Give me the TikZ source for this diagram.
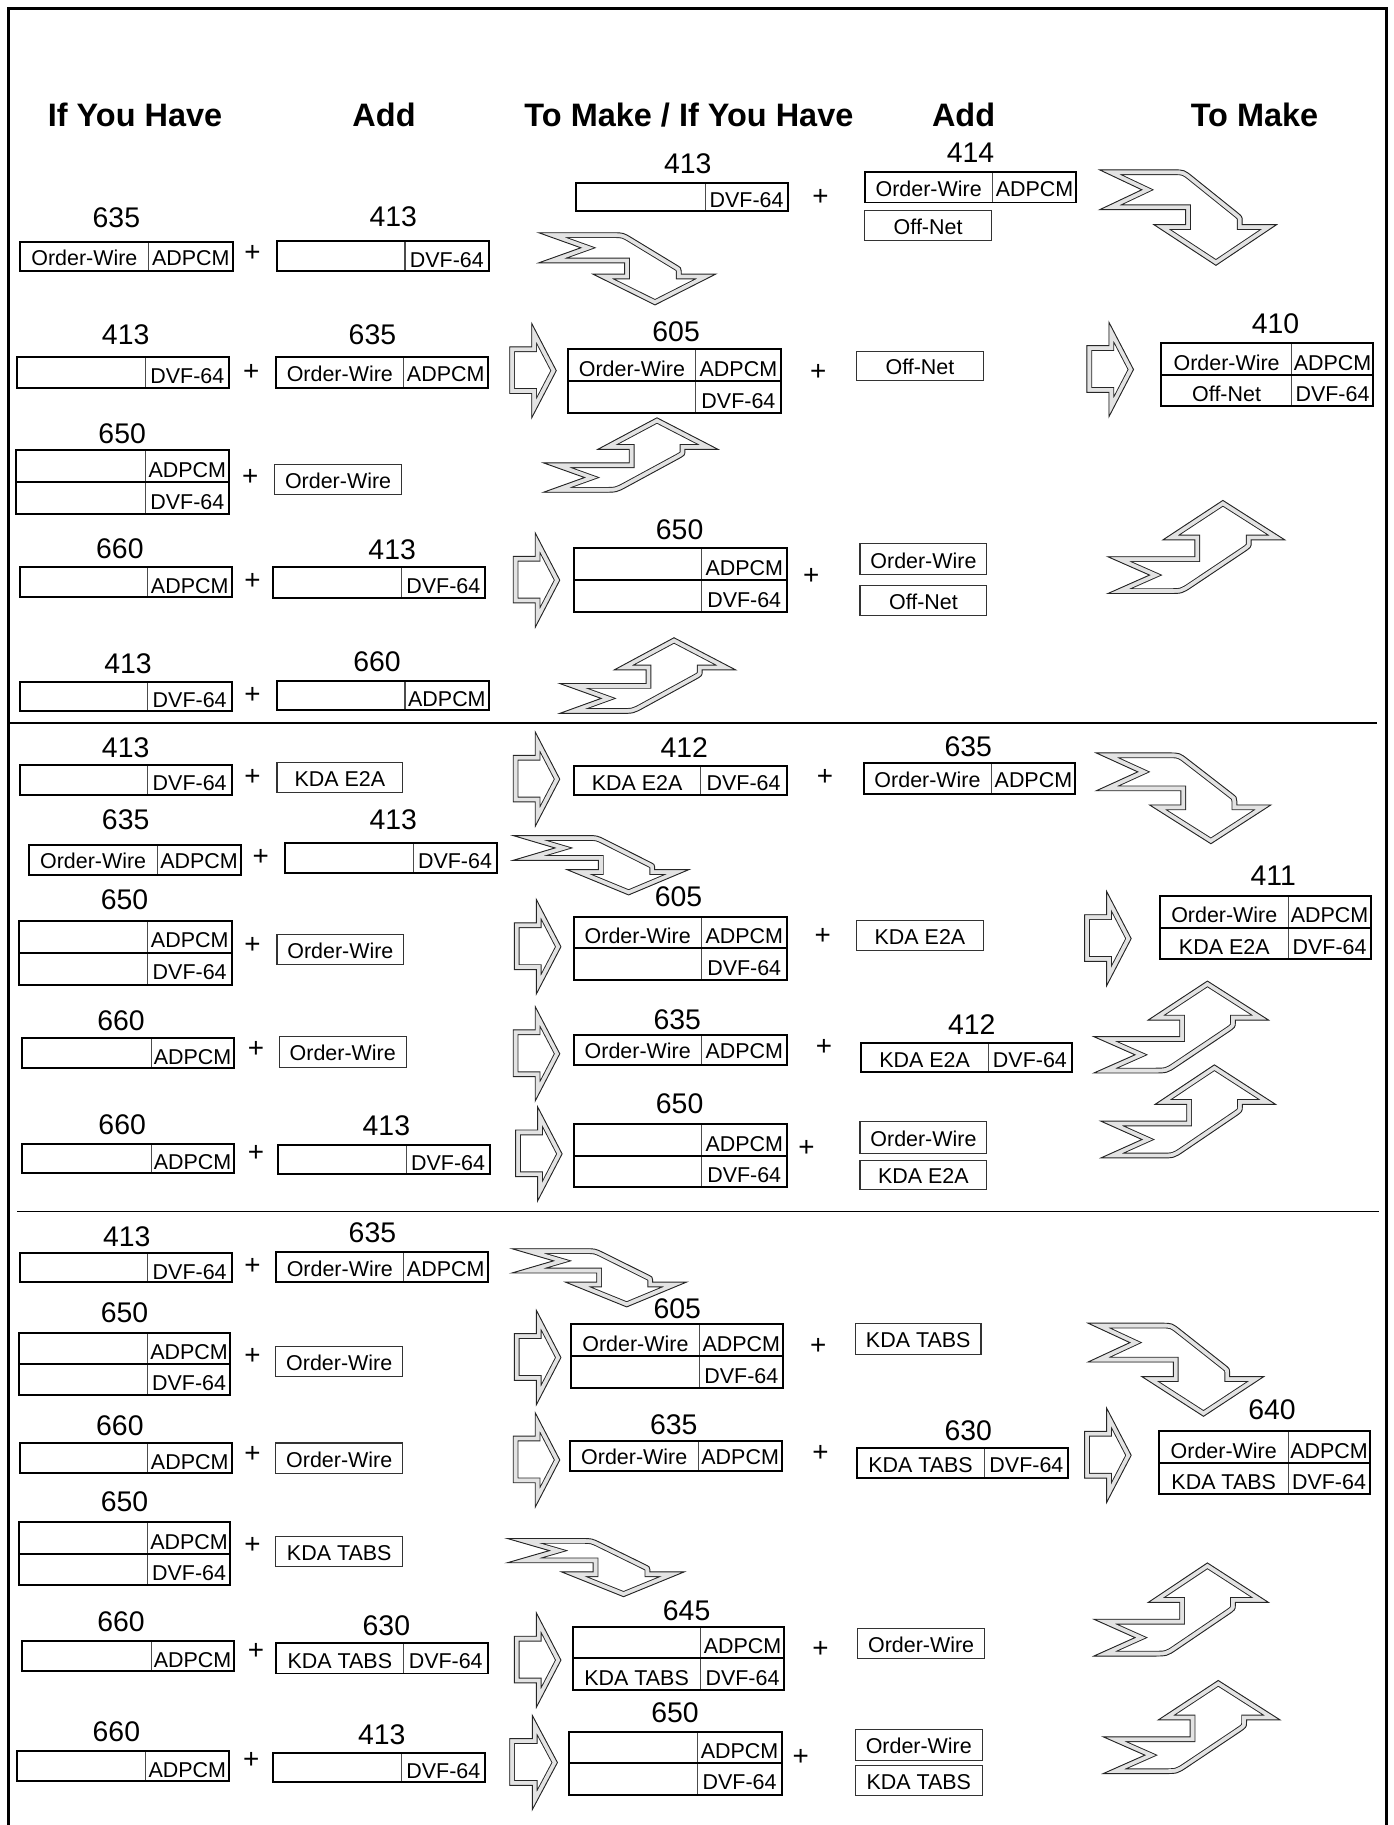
\documentclass[tikz,border=0pt]{standalone}
\usepackage{fontspec}
\setmainfont{Liberation Sans}
\tikzset{
 outl/.style={draw=black, line width=1.7bp},
 divl/.style={draw=black!70, line width=0.9bp},
 thinbox/.style={draw=black!80, line width=1bp},
 cell/.style={inner sep=0pt, text height=13.2bp, text depth=0pt, font=\fontsize{18.5}{20}\selectfont},
 num/.style={inner sep=0pt, text height=17.5bp, text depth=0pt, font=\fontsize{24.5}{26}\selectfont},
 hdr/.style={inner sep=0pt, text height=20bp, text depth=0pt, font=\bfseries\fontsize{28}{30}\selectfont},
 plus/.style={inner sep=0pt, font=\fontsize{24}{25}\selectfont},
 bandout/.style={draw=black!85, line width=9bp, line join=miter},
 bandin/.style={draw=black!11, line width=7.4bp, line join=miter},
 bandedge/.style={draw=black!85, line width=0.8bp, line join=miter},
 sep/.style={draw=black, line width=1.5bp},
}
\newcommand{\BxTwo}[8]{%
 \draw[divl] (#5,#2) -- (#5,#4);
 \draw[outl] (#1,#2) rectangle (#3,#4);
 \node[cell] at ({(#1+#5)/2},{(#2+#4)/2+#8}) {#6};
 \node[cell] at ({(#5+#3)/2},{(#2+#4)/2+#8}) {#7};}
\newcommand{\BxFour}[9]{%
 \draw[divl] (#5,#2) -- (#5,#4);
 \draw[outl] (#1,{(#2+#4)/2}) -- (#3,{(#2+#4)/2});
 \draw[outl] (#1,#2) rectangle (#3,#4);
 \node[cell] at ({(#1+#5)/2},{(3*#2+#4)/4+3}) {#6};
 \node[cell] at ({(#5+#3)/2},{(3*#2+#4)/4+3}) {#7};
 \node[cell] at ({(#1+#5)/2},{(#2+3*#4)/4+3}) {#8};
 \node[cell] at ({(#5+#3)/2},{(#2+3*#4)/4+3}) {#9};}
\newcommand{\BxOne}[5]{%
 \draw[thinbox] (#1,#2) rectangle (#3,#4);
 \node[cell] at ({(#1+#3)/2},{(#2+#4)/2+1}) {#5};}
\newcommand{\Band}[5]{%
 \begin{scope}[shift={(#1,#2)}, xscale=#3, yscale=#4]
  \begin{scope}
   \clip #5;
   \draw[bandout] #5;
   \draw[bandin] #5;
  \end{scope}
  \draw[bandedge] #5;
 \end{scope}}
\newcommand{\ArS}[4]{\Band{#1}{#2}{#3}{#4}{(0,0.247) -- (0.473,0.247) -- (0.473,0) -- (1,0.5) -- (0.473,1) -- (0.473,0.742) -- (0,0.742) -- cycle}}
\newcommand{\ArD}[4]{\Band{#1}{#2}{#3}{#4}{(0,0) -- (0.42,0) .. controls (0.478,0) .. (0.53,0.078) -- (0.769,0.434) .. controls (0.805,0.4875) .. (0.805,0.53) -- (0.805,0.573) -- (1,0.573) -- (0.6567,1) -- (0.3056,0.573) -- (0.485,0.573) -- (0.485,0.4167) -- (0,0.4167) -- (0.2377,0.2083) -- cycle}}
\newcommand{\ArU}[4]{\Band{#1}{#2}{#3}{#4}{(0,0.605) -- (0.4915,0.605) -- (0.4915,0.424) -- (0.311,0.424) -- (0.650,0) -- (1,0.424) -- (0.810,0.424) -- (0.81,0.45) .. controls (0.81,0.503) .. (0.763,0.563) -- (0.4785,0.925) .. controls (0.42,1) .. (0.34,1) -- (0,1) -- (0.2355,0.802) -- cycle}}
\newcommand{\Pl}[2]{\node[plus] at (#1,#2) {+};}
\newcommand{\Nm}[3]{\node[num] at (#1,#2) {#3};}
\begin{document}
\begin{tikzpicture}[x=1bp,y=-1bp]
\useasboundingbox (0,0) rectangle (1197,1568.2);
\draw[line width=2.6bp] (7,1600) -- (7,7) -- (1191,7) -- (1191,1600);
% headers
\node[hdr] at (116,99) {If You Have};
\node[hdr] at (330,99) {Add};
\node[hdr] at (592,99) {To Make / If You Have};
\node[hdr] at (828,99) {Add};
\node[hdr] at (1078,99) {To Make};
% ===== Section 1 =====
% Row A
\Nm{100}{187}{635} \BxTwo{17}{208}{200}{233}{128}{Order-Wire}{ADPCM}{1}
\Pl{217}{218}
\Nm{338}{186}{413} \BxTwo{238}{207}{420}{233}{348}{}{DVF-64}{3}
\ArD{463}{200}{152}{62}
\Nm{591}{140}{413} \BxTwo{495}{157}{677}{181}{606}{}{DVF-64}{3}
\Pl{705}{170}
\Nm{834}{131}{414} \BxTwo{743}{148}{925}{174}{853}{Order-Wire}{ADPCM}{1}
\BxOne{743}{181}{852}{207}{Off-Net}
\ArD{945}{146}{152}{82}
% Row B
\Nm{108}{287}{413} \BxTwo{15}{307}{197}{333}{125}{}{DVF-64}{3}
\Pl{216}{320}
\Nm{320}{287}{635} \BxTwo{237}{307}{419}{333}{347}{Order-Wire}{ADPCM}{1}
\ArS{438}{278}{40}{81}
\Nm{581}{285}{605} \BxFour{488}{300}{671}{355}{598}{Order-Wire}{ADPCM}{}{DVF-64}
\Pl{703}{320}
\BxOne{736}{302}{845}{327}{Off-Net}
\ArS{934}{277}{40}{81}
\Nm{1096}{278}{410} \BxFour{998}{295}{1180}{349}{1110}{Order-Wire}{ADPCM}{Off-Net}{DVF-64}
% Row C
\Nm{105}{372}{650} \BxFour{14}{387}{197}{442}{125}{}{ADPCM}{}{DVF-64}
\Pl{215}{410}
\BxOne{236}{399}{345}{425}{Order-Wire}
\ArU{467}{359}{150}{64}
% Row D
\Nm{103}{471}{660} \BxTwo{17}{487}{199}{513}{127}{}{ADPCM}{3}
\Pl{217}{500}
\Nm{337}{472}{413} \BxTwo{235}{487}{417}{514}{345}{}{DVF-64}{3}
\ArS{441}{458}{40}{81}
\Nm{584}{455}{650} \BxFour{493}{471}{676}{526}{603}{}{ADPCM}{}{DVF-64}
\Pl{697}{495}
\BxOne{739}{467}{848}{494}{Order-Wire}
\BxOne{739}{503}{848}{529}{Off-Net}
\ArU{952}{430}{152}{80}
% Row E
\Nm{110}{570}{413} \BxTwo{17}{586}{199}{611}{127}{}{DVF-64}{3}
\Pl{217}{598}
\Nm{324}{568}{660} \BxTwo{238}{585}{420}{610}{348}{}{ADPCM}{3}
\ArU{481}{548}{151}{65}
\draw[sep] (8,621) -- (1183,621);
% ===== Section 2 =====
% Row F
\Nm{108}{642}{413} \BxTwo{17}{657}{199}{683}{127}{}{DVF-64}{3}
\Pl{217}{668}
\BxOne{238}{655}{346}{681}{KDA E2A}
\ArS{441}{629}{40}{81}
\Nm{588}{642}{412} \BxTwo{493}{658}{676}{683}{602}{KDA E2A}{DVF-64}{2}
\Pl{709}{668}
\Nm{832}{641}{635} \BxTwo{742}{656}{924}{682}{852}{Order-Wire}{ADPCM}{1}
\ArD{942}{647}{150}{78}
% Row G
\Nm{108}{704}{635} \BxTwo{25}{726}{207}{752}{135}{Order-Wire}{ADPCM}{1}
\Pl{224}{737}
\Nm{338}{704}{413} \BxTwo{245}{724}{427}{750}{355}{}{DVF-64}{3}
\ArD{441}{718}{151}{51}
% Row H
\Nm{107}{773}{650} \BxFour{16}{791}{199}{846}{127}{}{ADPCM}{}{DVF-64}
\Pl{217}{812}
\BxOne{238}{803}{347}{829}{Order-Wire}
\ArS{442}{773}{40}{81}
\Nm{583}{770}{605} \BxFour{493}{788}{676}{842}{603}{Order-Wire}{ADPCM}{}{DVF-64}
\Pl{707}{805}
\BxOne{736}{791}{845}{817}{KDA E2A}
\ArS{932}{766}{40}{81}
\Nm{1094}{752}{411} \BxFour{997}{770}{1178}{824}{1107}{Order-Wire}{ADPCM}{KDA E2A}{DVF-64}
% Row I
\Nm{104}{877}{660} \BxTwo{19}{892}{201}{918}{130}{}{ADPCM}{3}
\Pl{220}{902}
\BxOne{240}{891}{349}{917}{Order-Wire}
\ArS{441}{865}{40}{81}
\Nm{582}{876}{635} \BxTwo{493}{889}{676}{915}{603}{Order-Wire}{ADPCM}{1}
\Pl{708}{900}
\Nm{835}{880}{412} \BxTwo{740}{896}{921}{921}{849}{KDA E2A}{DVF-64}{2}
\ArU{940}{843}{150}{79}
% Row J
\Nm{105}{966}{660} \BxTwo{19}{983}{201}{1008}{130}{}{ADPCM}{3}
\Pl{220}{991}
\Nm{332}{967}{413} \BxTwo{239}{984}{421}{1009}{349}{}{DVF-64}{3}
\ArS{443}{951}{40}{81}
\Nm{584}{948}{650} \BxFour{493}{966}{676}{1020}{603}{}{ADPCM}{}{DVF-64}
\Pl{693}{987}
\BxOne{739}{964}{848}{991}{Order-Wire}
\BxOne{739}{997}{848}{1022}{KDA E2A}
\ArU{946}{915}{150}{80}
\draw[sep] (15,1041) -- (1185,1041);
% ===== Section 3 =====
% Row K
\Nm{109}{1062}{413} \BxTwo{17}{1077}{199}{1102}{127}{}{DVF-64}{3}
\Pl{217}{1088}
\Nm{320}{1059}{635} \BxTwo{237}{1076}{419}{1102}{347}{Order-Wire}{ADPCM}{1}
\ArD{440}{1073}{150}{50}
% Row L
\Nm{107}{1128}{650} \BxFour{16}{1145}{198}{1199}{127}{}{ADPCM}{}{DVF-64}
\Pl{217}{1166}
\BxOne{237}{1157}{346}{1183}{Order-Wire}
\ArS{442}{1126}{40}{81}
\Nm{582}{1124}{605} \BxFour{491}{1138}{673}{1193}{601}{Order-Wire}{ADPCM}{}{DVF-64}
\Pl{703}{1157}
\BxOne{735}{1137}{843}{1164}{KDA TABS}
\ArD{935}{1137}{151}{80}
% Row M
\Nm{103}{1225}{660} \BxTwo{17}{1240}{199}{1266}{127}{}{ADPCM}{3}
\Pl{217}{1250}
\BxOne{237}{1240}{346}{1266}{Order-Wire}
\ArS{441}{1214}{40}{81}
\Nm{579}{1224}{635} \BxTwo{490}{1238}{672}{1264}{600}{Order-Wire}{ADPCM}{1}
\Pl{705}{1249}
\Nm{832}{1229}{630} \BxTwo{736}{1244}{918}{1270}{846}{KDA TABS}{DVF-64}{2}
\ArS{932}{1210}{40}{81}
\Nm{1093}{1211}{640} \BxFour{996}{1230}{1177}{1284}{1107}{Order-Wire}{ADPCM}{KDA TABS}{DVF-64}
% Row N
\Nm{107}{1290}{650} \BxFour{16}{1308}{198}{1362}{127}{}{ADPCM}{}{DVF-64}
\Pl{217}{1328}
\BxOne{237}{1320}{346}{1346}{KDA TABS}
\ArD{436}{1322}{152}{50}
% Row O
\Nm{104}{1393}{660} \BxTwo{19}{1410}{201}{1436}{130}{}{ADPCM}{3}
\Pl{220}{1419}
\Nm{332}{1397}{630} \BxTwo{237}{1412}{419}{1438}{347}{KDA TABS}{DVF-64}{2}
\ArS{442}{1386}{40}{81}
\Nm{590}{1384}{645} \BxFour{492}{1398}{674}{1452}{602}{}{ADPCM}{KDA TABS}{DVF-64}
\Pl{705}{1417}
\BxOne{737}{1399}{846}{1425}{Order-Wire}
\ArU{940}{1343}{150}{80}
% Row P
\Nm{100}{1488}{660} \BxTwo{15}{1505}{197}{1530}{125}{}{ADPCM}{3}
\Pl{216}{1513}
\Nm{328}{1490}{413} \BxTwo{235}{1506}{417}{1531}{345}{}{DVF-64}{3}
\ArS{438}{1474}{41}{81}
\Nm{580}{1471}{650} \BxFour{489}{1488}{672}{1542}{599}{}{ADPCM}{}{DVF-64}
\Pl{688}{1510}
\BxOne{735}{1486}{844}{1513}{Order-Wire}
\BxOne{735}{1517}{844}{1543}{KDA TABS}
\ArU{948}{1444}{152}{80}
\end{tikzpicture}
\end{document}
